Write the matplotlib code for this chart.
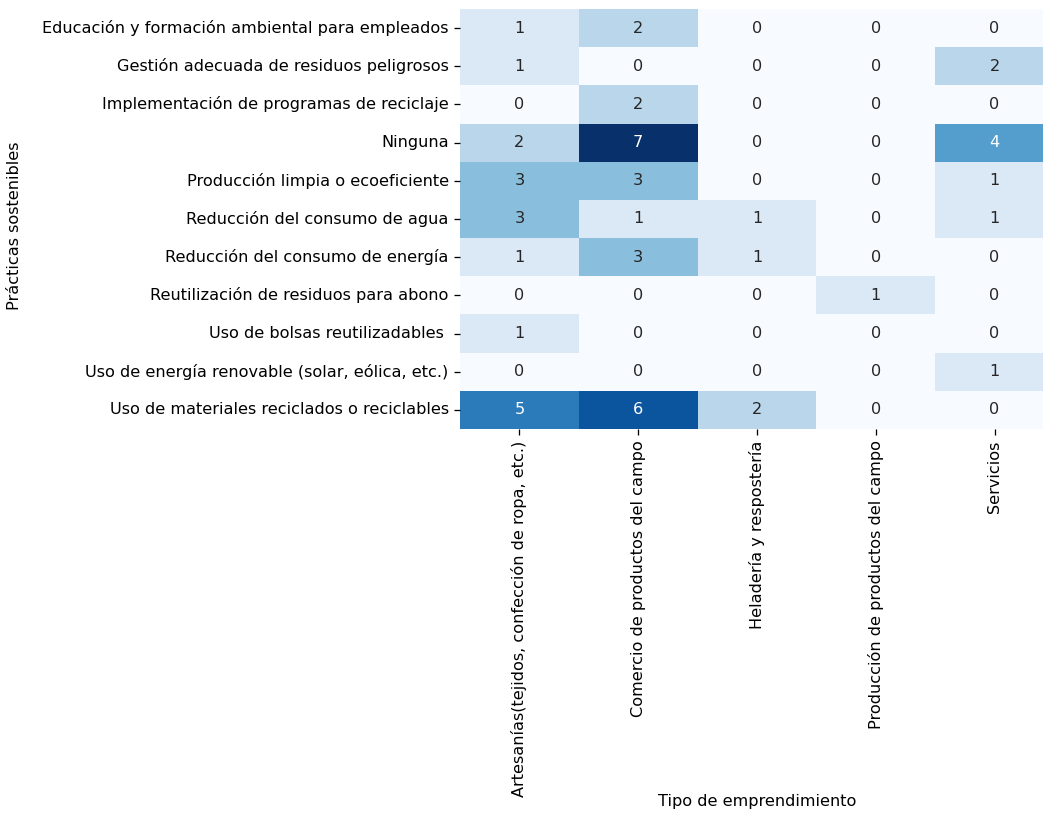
import matplotlib
matplotlib.use('Agg')
import matplotlib.pyplot as plt
import seaborn as sns
import pandas as pd

practicas = ['Educación y formación ambiental para empleados',
             'Gestión adecuada de residuos peligrosos',
             'Implementación de programas de reciclaje',
             'Ninguna',
             'Producción limpia o ecoeficiente',
             'Reducción del consumo de agua',
             'Reducción del consumo de energía',
             'Reutilización de residuos para abono',
             'Uso de bolsas reutilizadables ',
             'Uso de energía renovable (solar, eólica, etc.)',
             'Uso de materiales reciclados o reciclables']
tipos = ['Artesanías(tejidos, confección de ropa, etc.)',
         'Comercio de productos del campo',
         'Heladería y respostería',
         'Producción de productos del campo',
         'Servicios']

artesanias = [1, 1, 0, 2, 3, 3, 1, 0, 1, 0, 5]
comercio = [2, 0, 2, 7, 3, 1, 3, 0, 0, 0, 6]
heladeria = [0, 0, 0, 0, 0, 1, 1, 0, 0, 0, 2]
produccion = [0, 0, 0, 0, 0, 0, 0, 1, 0, 0, 0]
servicios = [0, 2, 0, 4, 1, 1, 0, 0, 0, 1, 0]

tabla = pd.DataFrame({tipos[0]: artesanias, tipos[1]: comercio,
                      tipos[2]: heladeria, tipos[3]: produccion,
                      tipos[4]: servicios}, index=practicas)

dpi = 116
fig = plt.figure(figsize=(1043 / dpi, 814 / dpi), dpi=dpi)
ax = fig.add_axes([460 / 1043, 1 - 429 / 814, 594 / 1043, 420 / 814])

sns.heatmap(tabla, annot=True, fmt='d', cmap='Blues', cbar=False, ax=ax)

ax.set_xlabel('Tipo de emprendimiento')
ax.set_ylabel('Prácticas sostenibles')
ax.xaxis.set_label_coords(0.5, -0.87)
ax.yaxis.set_label_coords(-0.737, 0.485)
plt.setp(ax.get_xticklabels(), rotation=90)
plt.setp(ax.get_yticklabels(), rotation=0)

fig.savefig('out.png', dpi=dpi)
